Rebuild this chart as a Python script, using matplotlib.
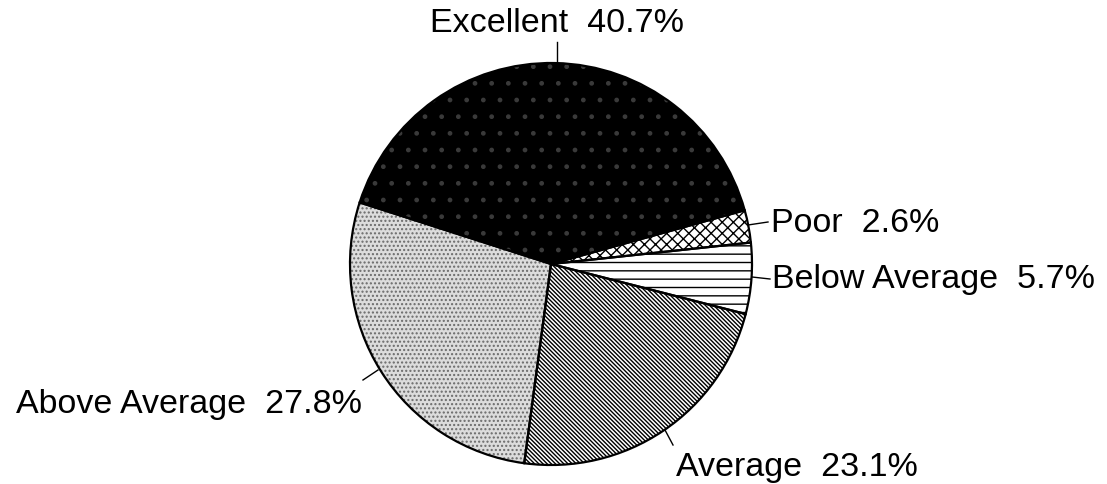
import matplotlib
matplotlib.use("Agg")
import matplotlib.pyplot as plt

labels = ["Excellent", "Above Average", "Average", "Below Average", "Poor"]
values = [40.7, 27.8, 23.1, 5.7, 2.6]
label_text = ["Excellent  40.7%", "Above Average  27.8%", "Average  23.1%",
              "Below Average  5.7%", "Poor  2.6%"]

plt.rcParams['hatch.linewidth'] = 1.0
fig = plt.figure(figsize=(11.07, 4.84), dpi=100)
ax = fig.add_axes([0, 0, 1, 1])

center = (551, 220)
R = 201
start = 15.5

faces = ["black", "#dcdcdc", "white", "white", "white"]
hatches = [".", "....", "\\" * 8, "--", "xxx"]
hcolors = ["#3a3a3a", "#6a6a6a", "black", "black", "black"]

wedges, _ = ax.pie(values, startangle=start, counterclock=True, center=center,
                   radius=R, frame=True)
for w, fc, h, hc in zip(wedges, faces, hatches, hcolors):
    w.set_facecolor(fc)
    w.set_hatch(h)
    w.set_edgecolor(hc)
    w.set_linewidth(0)

ax.pie(values, startangle=start, counterclock=True, center=center,
       radius=R, frame=True,
       wedgeprops=dict(fill=False, edgecolor="black", linewidth=1.6))
ax.set_xlim(0, 1107)
ax.set_ylim(0, 484)
ax.set_aspect('equal')
ax.axis('off')

def Y(py):
    return 484 - py

fs = 24.5
font = "Liberation Sans"
# Excellent
ax.plot([557, 557], [Y(62), Y(42)], color="black", lw=1)
ax.text(557, Y(32), label_text[0], ha="center", va="baseline", fontsize=fs, family=font)
# Poor
ax.plot([748, 768], [Y(225), Y(222)], color="black", lw=1)
ax.text(771, Y(232), label_text[4], ha="left", va="baseline", fontsize=fs, family=font)
# Below Average
ax.plot([752, 770], [Y(277), Y(279)], color="black", lw=1)
ax.text(772, Y(288), label_text[3], ha="left", va="baseline", fontsize=fs, family=font)
# Above Average
ax.plot([378, 363], [Y(370), Y(380)], color="black", lw=1)
ax.text(362, Y(413), label_text[1], ha="right", va="baseline", fontsize=fs, family=font)
# Average
ax.plot([665, 673], [Y(430), Y(445)], color="black", lw=1)
ax.text(676, Y(476), label_text[2], ha="left", va="baseline", fontsize=fs, family=font)

fig.savefig("out.png", dpi=100)
